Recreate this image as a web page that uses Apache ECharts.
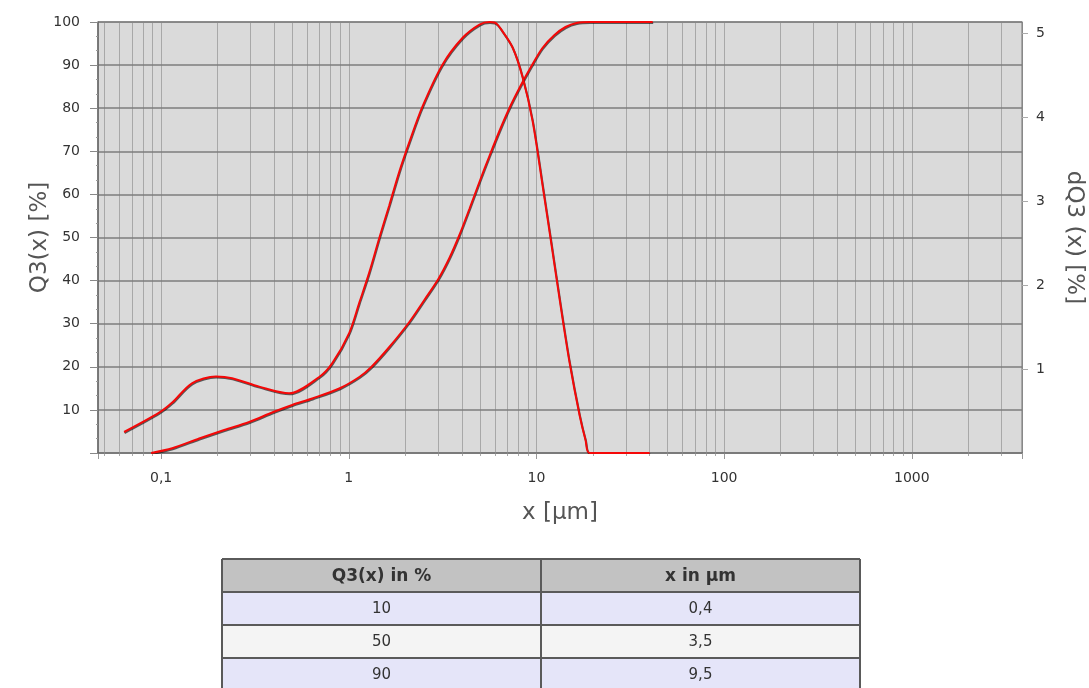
<!DOCTYPE html>
<html><head><meta charset="utf-8">
<script src="https://cdn.jsdelivr.net/npm/echarts@6/dist/echarts.min.js"></script>
<style>html,body{margin:0;padding:0;background:#fff}#c{width:1089px;height:688px}</style>
</head><body><div id="c"></div>
<script>
// Cumulative distribution Q3(x) [%] (left axis)
const cumX = [0.0885, 0.1146, 0.1595, 0.2168, 0.2946, 0.396, 0.4995, 0.639, 0.890, 1.138, 1.318, 1.644, 2.102, 2.527, 3.0, 3.436, 3.885, 4.391, 4.966, 5.615, 6.348, 7.178, 8.216, 9.404, 10.76, 12.47, 14.28, 16.34, 19.2, 41.6];
const cumY = [0, 1.1, 3.36, 5.34, 7.19, 9.51, 11.14, 12.65, 14.97, 17.63, 19.95, 24.59, 30.39, 35.5, 40.37, 45.24, 50.58, 56.61, 62.88, 68.91, 74.71, 80.05, 85.15, 89.79, 93.97, 96.98, 98.84, 99.77, 100, 100];
// Density distribution dQ3(x) [%] (right axis)
const densX = [0.0635, 0.0976, 0.1146, 0.146, 0.196, 0.239, 0.333, 0.481, 0.696, 0.817, 1.006, 1.138, 1.286, 1.454, 1.644, 1.859, 2.102, 2.465, 3.15, 4.03, 4.97, 5.62, 5.97, 6.2, 6.5, 7.45, 8.42, 9.52, 10.77, 12.02, 13.43, 15.0, 16.97, 18.25, 19.2, 40.1];
const densY = [0.25, 0.48, 0.60, 0.83, 0.91, 0.89, 0.79, 0.71, 0.905, 1.07, 1.43, 1.79, 2.15, 2.56, 2.95, 3.35, 3.70, 4.12, 4.62, 4.94, 5.10, 5.13, 5.125, 5.10, 5.04, 4.83, 4.48, 3.96, 3.19, 2.48, 1.76, 1.08, 0.45, 0.155, 0, 0];
// Axis ticks
const xTickValues = [0.1, 1, 10, 100, 1000];
const xTickLabels = ['0,1', '1', '10', '100', '1000'];
const xMin = 0.0461, xMax = 3863;
const yLeftMax = 100, yRightMax = 5.131;
// Table
const tableHeader = ['Q3(x) in %', 'x in \u00b5m'];
const tableQ3 = ['10', '50', '90'];
const tableXval = ['0,4', '3,5', '9,5'];

// minor log gridlines (k * 10^n)
const minorGrid = [];
for (let e = -2; e <= 3; e++) {
  for (let k = 2; k <= 9; k++) {
    const v = k * Math.pow(10, e);
    if (v > xMin && v < xMax) minorGrid.push(+v.toPrecision(3));
  }
}

const chart = echarts.init(document.getElementById('c'), null, {renderer: 'canvas'});
const FONT = 'DejaVu Sans';

// table graphic
const tL = 222, tR = 860, tM = 541, rowsY = [559, 592, 625, 658, 691];
const rowFill = ['#c2c2c2', '#e5e5f9', '#f4f4f4', '#e5e5f9'];
const graphics = [];
const rows = [tableHeader].concat(tableQ3.map((q, i) => [q, tableXval[i]]));
rows.forEach((r, i) => {
  graphics.push({type: 'rect', shape: {x: tL, y: rowsY[i], width: tR - tL, height: rowsY[i + 1] - rowsY[i]}, style: {fill: rowFill[i]}});
  [[tL, tM], [tM, tR]].forEach((c, j) => {
    graphics.push({type: 'text', x: (c[0] + c[1]) / 2, y: (rowsY[i] + rowsY[i + 1]) / 2 + 1,
      style: {text: r[j], fontFamily: FONT, fontSize: i === 0 ? 17 : 15, fontWeight: i === 0 ? 'bold' : 'normal',
        fill: '#333', align: 'center', verticalAlign: 'middle'}});
  });
});
rowsY.forEach(y => graphics.push({type: 'line', shape: {x1: tL, y1: y, x2: tR, y2: y}, style: {stroke: '#5a5a5a', lineWidth: 2}}));
[tL, tM, tR].forEach(x => graphics.push({type: 'line', shape: {x1: x, y1: rowsY[0], x2: x, y2: 691}, style: {stroke: '#5a5a5a', lineWidth: 2}}));

const lineStyleBase = {color: '#f50808', width: 2, shadowColor: 'rgba(0,0,0,0.6)', shadowBlur: 0, shadowOffsetY: 1, shadowOffsetX: 0.5};

chart.setOption({
  animation: false,
  backgroundColor: '#fff',
  grid: {left: 98, right: 67, top: 22, bottom: 235, show: true, backgroundColor: '#dadada', borderColor: '#777', borderWidth: 1,
    containLabel: false, outerBoundsMode: 'none'},
  xAxis: {
    type: 'log', logBase: 10, min: xMin, max: xMax, splitNumber: 5,
    name: 'x [\u00b5m]', nameLocation: 'middle', nameGap: 49, nameMoveOverlap: false,
    nameTextStyle: {fontFamily: FONT, fontSize: 23, color: '#555'},
    axisLine: {show: true, lineStyle: {color: '#666', width: 1.5}},
    axisTick: {show: true, length: 6, lineStyle: {color: '#999'}},
    minorTick: {show: true, splitNumber: 9, length: 3, lineStyle: {color: '#aaa'}},
    axisLabel: {margin: 18, fontFamily: FONT, fontSize: 14, color: '#333',
      formatter: v => {
        for (let i = 0; i < xTickValues.length; i++) {
          if (Math.abs(Math.log10(v) - Math.log10(xTickValues[i])) < 1e-6) return xTickLabels[i];
        }
        return '';
      }},
    splitLine: {show: true, lineStyle: {color: '#a8a8a8', width: 1}}
  },
  yAxis: [{
    type: 'value', min: 0, max: yLeftMax, interval: 10, position: 'left',
    name: 'Q3(x) [%]', nameLocation: 'middle', nameGap: 46, nameRotate: 90, nameMoveOverlap: false,
    nameTextStyle: {fontFamily: FONT, fontSize: 23, color: '#555'},
    axisLine: {show: true, lineStyle: {color: '#666', width: 1.5}},
    axisTick: {show: true, length: 8, lineStyle: {color: '#888'}},
    minorTick: {show: true, splitNumber: 3, length: 2, lineStyle: {color: '#999'}},
    axisLabel: {margin: 18, fontFamily: FONT, fontSize: 14, color: '#333', showMinLabel: false},
    splitLine: {show: true, lineStyle: {color: '#7c7c7c', width: 1.5}},
    z: 3
  }, {
    type: 'value', min: 0, max: yRightMax, interval: 1, position: 'right',
    name: 'dQ3 (x) [%]', nameLocation: 'middle', nameGap: 40, nameRotate: -90, nameMoveOverlap: false,
    nameTextStyle: {fontFamily: FONT, fontSize: 23, color: '#555'},
    axisLine: {show: true, lineStyle: {color: '#888', width: 1}},
    axisTick: {show: true, length: 6, lineStyle: {color: '#aaa'}},
    axisLabel: {margin: 14, fontFamily: FONT, fontSize: 14, color: '#333', showMinLabel: false, showMaxLabel: false},
    splitLine: {show: false}
  }],
  graphic: graphics,
  series: [{
    name: 'grid', type: 'line', data: [], xAxisIndex: 0, yAxisIndex: 0, z: 1, silent: true,
    markLine: {silent: true, z: 1, symbol: ['none', 'none'], animation: false,
      label: {show: false}, lineStyle: {color: '#a8a8a8', width: 1, type: 'solid'},
      emphasis: {disabled: true},
      data: minorGrid.map(v => ({xAxis: v}))}
  }, {
    name: 'Q3', type: 'line', xAxisIndex: 0, yAxisIndex: 0, z: 5,
    data: cumX.map((x, i) => [x, cumY[i]]), showSymbol: false, smooth: 0.3,
    lineStyle: lineStyleBase
  }, {
    name: 'dQ3', type: 'line', xAxisIndex: 0, yAxisIndex: 1, z: 5,
    data: densX.map((x, i) => [x, densY[i]]), showSymbol: false, smooth: 0.3,
    lineStyle: lineStyleBase
  }]
});
</script></body></html>
